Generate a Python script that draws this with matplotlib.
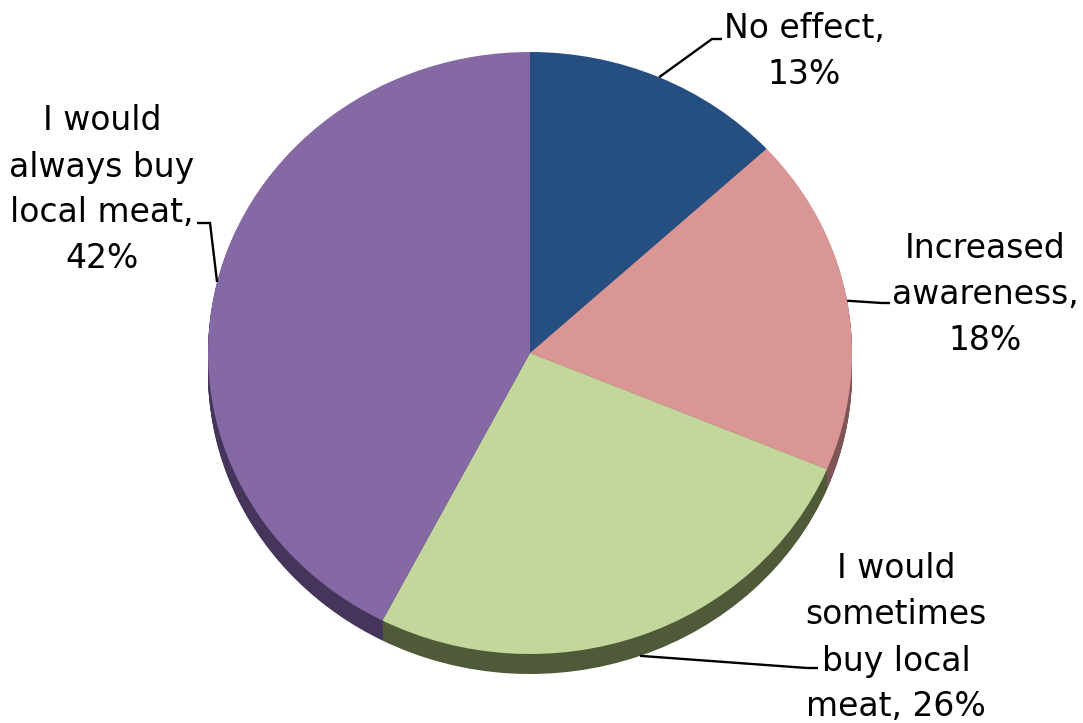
import numpy as np
import matplotlib
matplotlib.use("Agg")
import matplotlib.pyplot as plt

# Survey responses
categories = ["No effect", "Increased\nawareness", "I would\nsometimes\nbuy local\nmeat", "I would\nalways buy\nlocal meat"]
label_texts = ["No effect,\n13%", "Increased\nawareness,\n18%", "I would\nsometimes\nbuy local\nmeat, 26%", "I would\nalways buy\nlocal meat,\n42%"]
shares = [13, 18, 26, 42]

face_colors = ["#254F80", "#D99694", "#C3D69B", "#8569A5"]
side_colors = ["#16304F", "#7E5554", "#4F5A38", "#45355A"]

W, H = 1083, 723
fig = plt.figure(figsize=(W / 100, H / 100), dpi=100)
fig.patch.set_facecolor("white")

# Pie axes: tilted ellipse (horizontal radius 322 px, vertical 301 px)
cx, cy, rx, ry = 530, 353, 322, 301
depth = 20 / ry
ylo = -1.1
ax = fig.add_axes([(cx - rx) / W, (H - (cy + (-ylo) * ry)) / H, 2 * rx / W, (1 - ylo) * ry / H])

# side band of the disc, built from stacked darker layers
n_layers = 24
for k in range(n_layers, 0, -1):
    off = depth * k / n_layers
    ax.pie(shares, colors=side_colors, startangle=90, counterclock=False,
           center=(0, -off), radius=1.0, wedgeprops=dict(linewidth=0))
wedges, _ = ax.pie(shares, colors=face_colors, startangle=90, counterclock=False,
                   center=(0, 0), radius=1.0, wedgeprops=dict(linewidth=0))
ax.set_aspect("auto")
ax.set_xlim(-1, 1)
ax.set_ylim(ylo, 1)
ax.axis("off")

# overlay in pixel units for labels and leader lines
ov = fig.add_axes([0, 0, 1, 1])
ov.set_xlim(0, W)
ov.set_ylim(0, H)
ov.axis("off")

def edge_point(w, drop=0.0):
    mid = np.deg2rad((w.theta1 + w.theta2) / 2)
    disp = ax.transData.transform((np.cos(mid), np.sin(mid) - drop))
    return ov.transData.inverted().transform(disp)

# label centre, elbow and end of leader (image pixel layout, y measured from top)
layout = [
    dict(text=(804, 52), elbow=(712, 39), end=(722, 39), drop=0.0),
    dict(text=(985, 294), elbow=(882, 303), end=(890, 303), drop=0.0),
    dict(text=(896, 638), elbow=(807, 668), end=(818, 668), drop=depth),
    dict(text=(102, 190), elbow=(210, 223), end=(197, 223), drop=0.0),
]

for w, lab, lay in zip(wedges, label_texts, layout):
    ax_pt = edge_point(w, lay["drop"])
    ex, ey = lay["elbow"]
    nx, ny = lay["end"]
    ov.plot([ax_pt[0], ex, nx], [ax_pt[1], H - ey, H - ny], color="black", lw=1.7,
            solid_capstyle="butt", solid_joinstyle="miter")
    tx, ty = lay["text"]
    ov.text(tx, H - ty, lab, ha="center", va="center", multialignment="center",
            fontsize=23.8, family="DejaVu Sans", color="black", linespacing=1.5)

fig.savefig("out.png", dpi=100, facecolor="white")
